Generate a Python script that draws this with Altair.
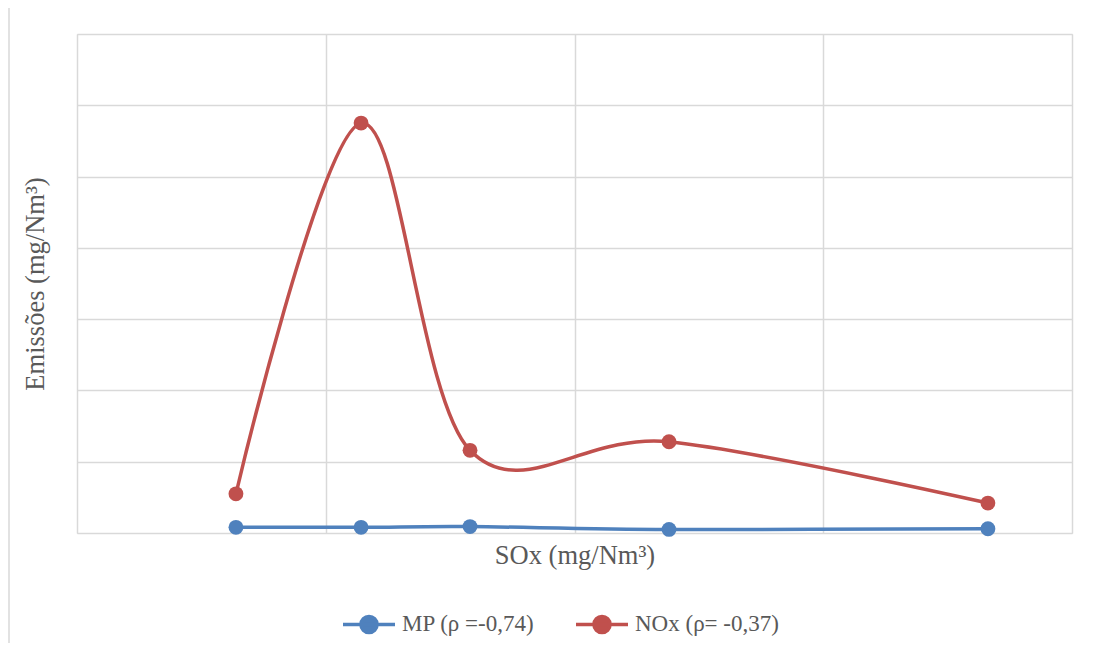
import altair as alt
import pandas as pd

sox = [63.9, 114.2, 158.0, 238.0, 366.2]
mp = [0.8, 0.8, 0.9, 0.5, 0.6]
nox = [5.5, 57.5, 11.6, 12.8, 4.2]
series_names = ["MP (ρ =-0,74)", "NOx (ρ= -0,37)"]
colors = ["#4F81BD", "#C0504D"]
x_ticks = [0, 100, 200, 300, 400]
y_ticks = [0, 10, 20, 30, 40, 50, 60, 70]

rows = []
for s, v in zip(sox, mp):
    rows.append({"SOx": s, "val": v, "serie": series_names[0]})
for s, v in zip(sox, nox):
    rows.append({"SOx": s, "val": v, "serie": series_names[1]})
df = pd.DataFrame(rows)

FONT = "Liberation Serif"
GREY = "#595959"
GRID = "#D9D9D9"

sym = "M-1,0H1M-0.31,0A0.31,0.31,0,1,1,0.31,0A0.31,0.31,0,1,1,-0.31,0Z"

leg = alt.Legend(
    title=None,
    orient="none",
    legendX=264,
    legendY=562,
    direction="horizontal",
    symbolType=sym,
    symbolSize=2704,
    symbolStrokeWidth=3.5,
    labelFont=FONT,
    labelFontSize=23,
    labelColor=GREY,
    labelOffset=5,
    columnPadding=34,
)
cscale = alt.Scale(domain=series_names, range=colors)

x = alt.X(
    "SOx:Q",
    scale=alt.Scale(domain=[0, 400], nice=False, zero=False),
    axis=alt.Axis(
        title="SOx (mg/Nm³)",
        values=x_ticks,
        labels=False,
        ticks=False,
        domain=False,
        grid=True,
        gridColor=GRID,
        gridWidth=1.5,
        titleFont=FONT,
        titleFontSize=26.5,
        titleFontWeight="normal",
        titleColor=GREY,
        titlePadding=9,
    ),
)
y = alt.Y(
    "val:Q",
    scale=alt.Scale(domain=[0, 70], nice=False),
    axis=alt.Axis(
        title="Emissões (mg/Nm³)",
        values=y_ticks,
        labels=False,
        ticks=False,
        domain=False,
        grid=True,
        gridColor=GRID,
        gridWidth=1.5,
        titleFont=FONT,
        titleFontSize=26.5,
        titleFontWeight="normal",
        titleColor=GREY,
        titlePadding=28,
    ),
)

lines = alt.Chart(df).mark_line(interpolate="cardinal", strokeWidth=3.5).encode(
    x=x, y=y,
    stroke=alt.Stroke("serie:N", scale=cscale, sort=series_names, legend=leg),
    detail="serie:N",
)
points = alt.Chart(df).mark_point(filled=True, size=220, opacity=1, strokeWidth=0).encode(
    x="SOx:Q", y="val:Q",
    fill=alt.Fill("serie:N", scale=cscale, sort=series_names, legend=leg),
)

border = alt.Chart(pd.DataFrame({"a": [0]})).mark_rect(
    fill=None, stroke=GRID, strokeWidth=1.5
).encode(
    x=alt.value(-68), x2=alt.value(1040), y=alt.value(-29), y2=alt.value(700)
)

chart = alt.layer(border, lines, points).properties(
    width=995,
    height=499,
    padding={"left": 69, "top": 26, "right": 14, "bottom": 110},
    autosize=alt.AutoSizeParams(type="none"),
).configure_view(stroke=GRID, strokeWidth=1.5).configure(background="white")

chart.save("out.html", embed_options={"renderer": "svg", "actions": False})
